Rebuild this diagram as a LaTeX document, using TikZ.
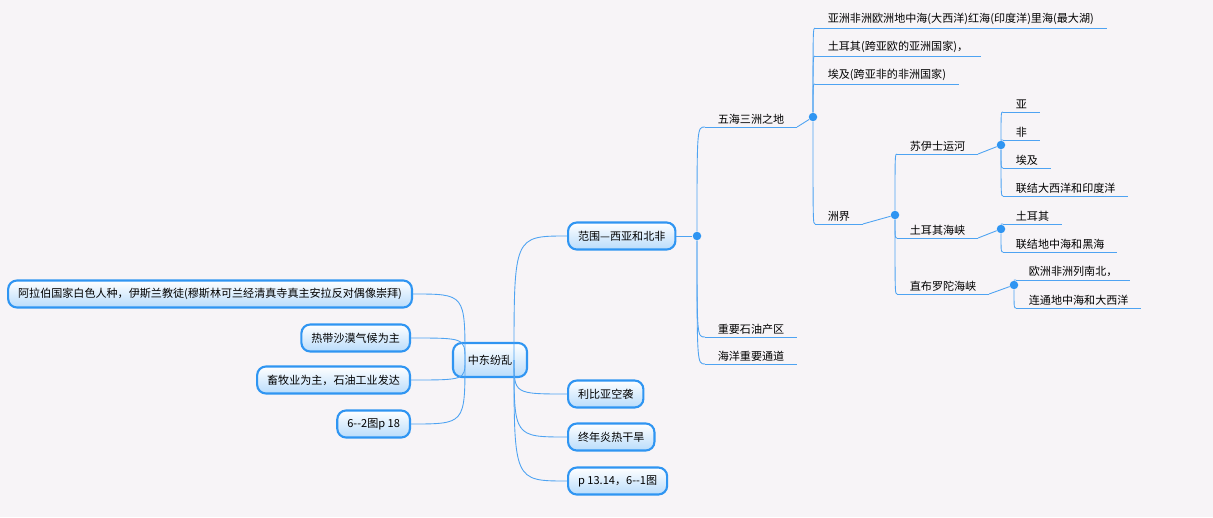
\documentclass[tikz,border=0pt]{standalone}
\usepackage{fontspec}
\setmainfont{Noto Sans CJK SC}
\definecolor{bgc}{HTML}{F7F4F7}
\definecolor{linec}{HTML}{4EA3F2}
\definecolor{boxc}{HTML}{2F95F2}
\definecolor{fillc}{HTML}{B9DCFB}
\tikzset{
  topicbox/.style={draw=boxc, line width=1.2pt, rounded corners=5pt, top color=white, bottom color=fillc,
    minimum height=0.54cm, inner xsep=0.2cm, font=\fontsize{6.3}{8}\selectfont},
  branch/.style={draw=linec, line width=0.5pt},
  leaf/.style={anchor=south west, inner xsep=0.25cm, inner ysep=1.5pt, font=\fontsize{6.3}{8}\selectfont,
    append after command={\pgfextra{\draw[branch] (\tikzlastnode.south west)--(\tikzlastnode.south east);}}},
  knot/.style={circle, fill=boxc, inner sep=0pt, minimum size=0.17cm}
}
\begin{document}
\begin{tikzpicture}[x=0.02cm, y=-0.02cm]
\fill[bgc] (0,0) rectangle (1213,517);
\useasboundingbox (0,0) rectangle (1213,517);
% centre and boxes
\node[topicbox, minimum width=1.48cm, minimum height=0.68cm] (mid) at (490,360) {中东纷乱};
\coordinate (midR) at (514,360);
\coordinate (midL) at (465,360);
\node[topicbox, anchor=east] (arab) at (413,294) {阿拉伯国家白色人种，伊斯兰教徒(穆斯林可兰经清真寺真主安拉反对偶像崇拜)};
\node[topicbox, anchor=east] (climate) at (411,338) {热带沙漠气候为主};
\node[topicbox, anchor=east] (herd) at (411,380) {畜牧业为主，石油工业发达};
\node[topicbox, anchor=east] (figa) at (411,424) {6-{}-2图p 18};
\node[topicbox, anchor=west] (range) at (567,236) {范围—西亚和北非};
\node[topicbox, anchor=west] (libya) at (567,394) {利比亚空袭};
\node[topicbox, anchor=west] (dry) at (567,437) {终年炎热干旱};
\node[topicbox, anchor=west] (figb) at (567,481) {p 13.14，6-{}-1图};
\foreach \b in {arab,climate,herd,figa}
  \draw[branch] (midL) .. controls (midL |- \b.east) .. (\b.east);
\foreach \b in {range,libya,dry,figb}
  \draw[branch] (midR) .. controls (midR |- \b.west) .. (\b.west);
% range branch
\node[knot] (k1) at (697,236) {};
\draw[branch] (range.east) -- (k1);
\node[leaf] (five) at (705,127) {五海三洲之地};
\node[leaf] (oil) at (705,337) {重要石油产区};
\node[leaf] (sea) at (705,364) {海洋重要通道};
\foreach \c in {five,oil,sea}
  \draw[branch] (k1) .. controls (k1 |- \c.south west) .. (\c.south west);
% five seas
\node[knot] (k2) at (813,117) {};
\draw[branch] (five.south east) -- (k2);
\node[leaf] (seas) at (815,28) {亚洲非洲欧洲地中海(大西洋)红海(印度洋)里海(最大湖)};
\node[leaf] (turk) at (815,56) {土耳其(跨亚欧的亚洲国家)，};
\node[leaf] (egypt) at (815,84) {埃及(跨亚非的非洲国家)};
\node[leaf] (bound) at (815,224) {洲界};
\foreach \c in {seas,turk,egypt,bound}
  \draw[branch] (k2) .. controls (k2 |- \c.south west) .. (\c.south west);
% boundaries
\node[knot] (k3) at (895,215) {};
\draw[branch] (bound.south east) -- (k3);
\node[leaf] (suez) at (897,154) {苏伊士运河};
\node[leaf] (bos) at (897,238) {土耳其海峡};
\node[leaf] (gib) at (897,294) {直布罗陀海峡};
\foreach \c in {suez,bos,gib}
  \draw[branch] (k3) .. controls (k3 |- \c.south west) .. (\c.south west);
\node[knot] (k4) at (1001,145) {};
\draw[branch] (suez.south east) -- (k4);
\node[leaf] (sa) at (1003,112) {亚};
\node[leaf] (sb) at (1003,140) {非};
\node[leaf] (sc) at (1003,168) {埃及};
\node[leaf] (sd) at (1003,196) {联结大西洋和印度洋};
\foreach \c in {sa,sb,sc,sd}
  \draw[branch] (k4) .. controls (k4 |- \c.south west) .. (\c.south west);
\node[knot] (k5) at (1001,229) {};
\draw[branch] (bos.south east) -- (k5);
\node[leaf] (ba) at (1003,224) {土耳其};
\node[leaf] (bb) at (1003,252) {联结地中海和黑海};
\foreach \c in {ba,bb}
  \draw[branch] (k5) .. controls (k5 |- \c.south west) .. (\c.south west);
\node[knot] (k6) at (1014,285) {};
\draw[branch] (gib.south east) -- (k6);
\node[leaf] (ga) at (1016,280) {欧洲非洲列南北，};
\node[leaf] (gb) at (1016,308) {连通地中海和大西洋};
\foreach \c in {ga,gb}
  \draw[branch] (k6) .. controls (k6 |- \c.south west) .. (\c.south west);
\end{tikzpicture}
\end{document}
